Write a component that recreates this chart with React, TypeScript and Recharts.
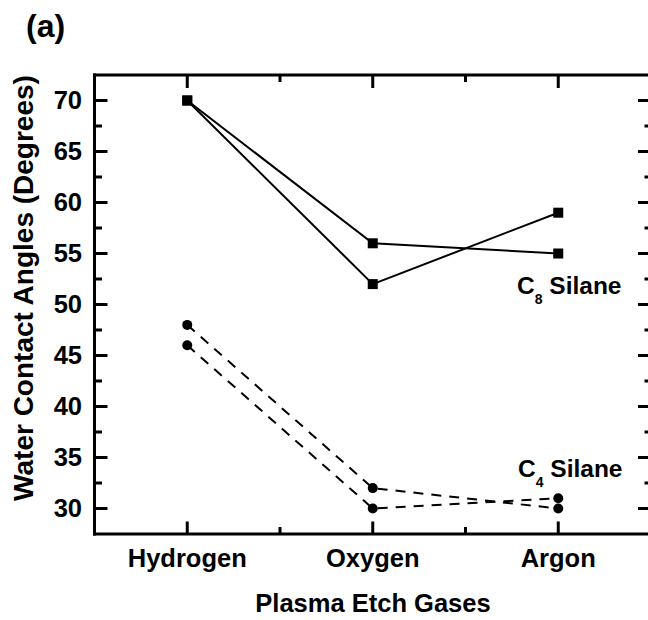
import { LineChart, Line, XAxis, YAxis, Customized } from "recharts";

// categories sit at the middle of each unit on a 0..3 numeric x axis
const gases = ["Hydrogen", "Oxygen", "Argon"];
const gasPos = [0.5, 1.5, 2.5];
const xMinor = [1, 2];

// water contact angles (degrees)
const c8Upper = [70, 56, 55];
const c8Lower = [70, 52, 59];
const c4Upper = [48, 32, 30];
const c4Lower = [46, 30, 31];

const yMajor = [30, 35, 40, 45, 50, 55, 60, 65, 70];
const yMinor = [32.5, 37.5, 42.5, 47.5, 52.5, 57.5, 62.5, 67.5];
const yDomain = [27.5, 72.5];

const data = gases.map((g, i) => ({
  gas: g,
  x: gasPos[i],
  c8Upper: c8Upper[i],
  c8Lower: c8Lower[i],
  c4Upper: c4Upper[i],
  c4Lower: c4Lower[i],
}));

const xTicks = [...gasPos, ...xMinor].sort((a, b) => a - b);
const yTicks = [...yMajor, ...yMinor].sort((a, b) => a - b);

const FONT = "'Liberation Sans', Arial, Helvetica, sans-serif";
const axisLine = { stroke: "#000", strokeWidth: 3, strokeLinecap: "square" as const };

const isMajorY = (v: number) => yMajor.includes(v);
const isMajorX = (v: number) => gasPos.includes(v);

function LeftTick(props: any) {
  const { x, y, payload } = props;
  const major = isMajorY(payload.value);
  return (
    <g>
      <line x1={x} x2={x + (major ? 13 : 7.5)} y1={y} y2={y} stroke="#000" strokeWidth={3} />
      {major && (
        <text x={x - 12.5} y={y + 8.5} textAnchor="end" fontFamily={FONT} fontWeight="bold" fontSize={25.5} fill="#000">
          {payload.value}
        </text>
      )}
    </g>
  );
}

function RightTick(props: any) {
  const { x, y, payload } = props;
  const major = isMajorY(payload.value);
  return <line x1={x} x2={x - (major ? 13 : 6.5)} y1={y} y2={y} stroke="#000" strokeWidth={3} />;
}

function BottomTick(props: any) {
  const { x, y, payload } = props;
  const major = isMajorX(payload.value);
  return (
    <g>
      <line x1={x} x2={x} y1={y} y2={y - (major ? 12.5 : 7)} stroke="#000" strokeWidth={3} />
      {major && (
        <text x={x} y={y + 33} textAnchor="middle" fontFamily={FONT} fontWeight="bold" fontSize={25.5} fill="#000">
          {gases[gasPos.indexOf(payload.value)]}
        </text>
      )}
    </g>
  );
}

function TopTick(props: any) {
  const { x, y, payload } = props;
  const major = isMajorX(payload.value);
  return <line x1={x} x2={x} y1={y} y2={y + (major ? 13 : 7)} stroke="#000" strokeWidth={3} />;
}

function SquareDot(props: any) {
  const { cx, cy } = props;
  if (cx == null || cy == null) return null;
  return <rect x={cx - 5} y={cy - 5} width={10} height={10} fill="#000" />;
}

function CircleDot(props: any) {
  const { cx, cy } = props;
  if (cx == null || cy == null) return null;
  return <circle cx={cx} cy={cy} r={5} fill="#000" />;
}

function Labels() {
  const t = { fontFamily: FONT, fontWeight: "bold" as const, fill: "#000" };
  return (
    <g>
      <text x={26} y={36.5} fontSize={32} {...t}>(a)</text>
      <text x={373} y={612} fontSize={25.5} textAnchor="middle" {...t}>Plasma Etch Gases</text>
      <text
        x={0}
        y={0}
        fontSize={28}
        textAnchor="middle"
        transform="translate(33,288) rotate(-90)"
        {...t}
      >
        Water Contact Angles (Degrees)
      </text>
      <text x={517} y={293.5} fontSize={24.5} {...t}>
        C<tspan fontSize={14} dy={10.5}>8</tspan>
        <tspan dy={-10.5}> Silane</tspan>
      </text>
      <text x={518} y={476.5} fontSize={24.5} {...t}>
        C<tspan fontSize={14} dy={10}>4</tspan>
        <tspan dy={-10}> Silane</tspan>
      </text>
    </g>
  );
}

export default function App() {
  return (
    <div style={{ position: "absolute", left: 0, top: 0, width: 648, height: 620, overflow: "hidden", background: "#fff" }}>
      <LineChart width={660} height={620} data={data} margin={{ top: 74, right: 8, bottom: 0, left: 0 }}>
        <XAxis
          xAxisId="b"
          dataKey="x"
          type="number"
          domain={[0, 3]}
          ticks={xTicks}
          interval={0}
          height={86}
          tickSize={0}
          tickMargin={0}
          tickLine={false}
          axisLine={axisLine}
          tick={<BottomTick />}
          allowDataOverflow
        />
        <XAxis
          xAxisId="t"
          orientation="top"
          dataKey="x"
          type="number"
          domain={[0, 3]}
          ticks={xTicks}
          interval={0}
          height={1}
          tickSize={0}
          tickMargin={0}
          tickLine={false}
          axisLine={axisLine}
          tick={<TopTick />}
          allowDataOverflow
        />
        <YAxis
          yAxisId="l"
          type="number"
          domain={yDomain}
          ticks={yTicks}
          interval={0}
          width={94.5}
          tickSize={0}
          tickMargin={0}
          tickLine={false}
          axisLine={axisLine}
          tick={<LeftTick />}
          allowDataOverflow
        />
        <YAxis
          yAxisId="r"
          orientation="right"
          type="number"
          domain={yDomain}
          ticks={yTicks}
          interval={0}
          width={1}
          tickSize={0}
          tickMargin={0}
          tickLine={false}
          axisLine={axisLine}
          tick={<RightTick />}
          allowDataOverflow
        />
        <Line xAxisId="b" yAxisId="l" type="linear" dataKey="c8Upper" stroke="#000" strokeWidth={2} dot={<SquareDot />} activeDot={false} isAnimationActive={false} />
        <Line xAxisId="b" yAxisId="l" type="linear" dataKey="c8Lower" stroke="#000" strokeWidth={2} dot={<SquareDot />} activeDot={false} isAnimationActive={false} />
        <Line xAxisId="b" yAxisId="l" type="linear" dataKey="c4Upper" stroke="#000" strokeWidth={2} strokeDasharray="10 8" dot={<CircleDot />} activeDot={false} isAnimationActive={false} />
        <Line xAxisId="b" yAxisId="l" type="linear" dataKey="c4Lower" stroke="#000" strokeWidth={2} strokeDasharray="10 8" dot={<CircleDot />} activeDot={false} isAnimationActive={false} />
        <Customized component={<Labels />} />
      </LineChart>
    </div>
  );
}
